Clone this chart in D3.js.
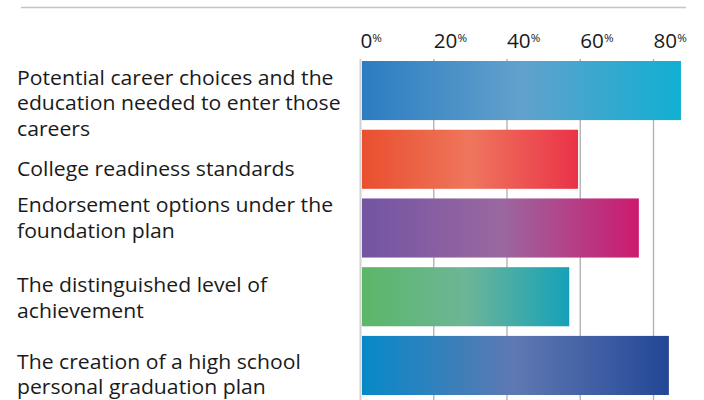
<!DOCTYPE html>
<html>
<head>
<meta charset="utf-8">
<script src="https://cdn.jsdelivr.net/npm/d3@7"></script>
<style>
  html, body { margin: 0; padding: 0; background: #fff; }
  svg { display: block; font-family: "Open Sans", sans-serif; }
</style>
</head>
<body>
<svg id="chart" width="704" height="400"></svg>
<script>
// Share of respondents who reported receiving information on each topic
const categories = [
  "Potential career choices and the education needed to enter those careers",
  "College readiness standards",
  "Endorsement options under the foundation plan",
  "The distinguished level of achievement",
  "The creation of a high school personal graduation plan"
];
const labelLines = [
  ["Potential career choices and the", "education needed to enter those", "careers"],
  ["College readiness standards"],
  ["Endorsement options under the", "foundation plan"],
  ["The distinguished level of", "achievement"],
  ["The creation of a high school", "personal graduation plan"]
];
const values = [87.5, 59.4, 76.0, 57.0, 84.2];
const tickValues = [0, 20, 40, 60, 80];

// Gradient stops (left, middle, right) for each bar
const gradients = [
  ["#2c7cc1", "#62a1cc", "#10afd2"],
  ["#e94f2e", "#ef765d", "#ea3248"],
  ["#7254a3", "#9a68a0", "#cc1a6e"],
  ["#5bb767", "#6db597", "#16a1b9"],
  ["#0689c7", "#5f78b2", "#234796"]
];

// Layout
const labelX = 17;
const lineHeight = 25.5;
const labelDy = [24, 46, 14, 25, 33];   // first baseline below each band's top
const textStretch = 1.06;                // slightly wide lettering

const svg = d3.select("#chart");

const x = d3.scaleLinear().domain([0, 80]).range([360.5, 653.5]);
const y = d3.scaleBand()
  .domain(categories)
  .range([61, 395])
  .paddingInner(0.14)
  .paddingOuter(0);

const defs = svg.append("defs");
gradients.forEach((stops, i) => {
  const g = defs.append("linearGradient")
    .attr("id", "grad" + i)
    .attr("x1", "0%").attr("x2", "100%")
    .attr("y1", "0%").attr("y2", "0%");
  stops.forEach((c, j) => {
    g.append("stop").attr("offset", (j / (stops.length - 1) * 100) + "%").attr("stop-color", c);
  });
});

// Top rule
svg.append("line")
  .attr("x1", 21).attr("x2", 686)
  .attr("y1", 7.5).attr("y2", 7.5)
  .attr("stroke", "#c4c4c4").attr("stroke-width", 1.5);

// Vertical gridlines
svg.append("g")
  .selectAll("line")
  .data(tickValues)
  .join("line")
  .attr("x1", d => x(d)).attr("x2", d => x(d))
  .attr("y1", 59).attr("y2", 400)
  .attr("stroke", d => d === 0 ? "#d2d2d2" : "#b3b3b3")
  .attr("stroke-width", d => d === 0 ? 2 : 1.4);

// Tick labels with superscript percent sign
const tl = svg.append("g")
  .selectAll("text")
  .data(tickValues)
  .join("text")
  .attr("transform", d => `translate(${x(d)},48) scale(${textStretch},1)`)
  .attr("fill", "#1a1a1a")
  .attr("font-size", 19.5);
tl.append("tspan").text(d => d);
tl.append("tspan")
  .attr("font-size", 11)
  .attr("dy", -6.5)
  .text("%");

// Bars
svg.append("g")
  .selectAll("rect")
  .data(values)
  .join("rect")
  .attr("x", x(0) + 1.5)
  .attr("y", (d, i) => y(categories[i]))
  .attr("width", d => x(d) - x(0) - 1.5)
  .attr("height", y.bandwidth())
  .attr("fill", (d, i) => `url(#grad${i})`);

// Category labels
const lab = svg.append("g")
  .selectAll("text")
  .data(labelLines)
  .join("text")
  .attr("transform", (d, i) => `translate(${labelX},${y(categories[i]) + labelDy[i]}) scale(${textStretch},1)`)
  .attr("fill", "#1a1a1a")
  .attr("font-size", 20);
lab.selectAll("tspan")
  .data(d => d)
  .join("tspan")
  .attr("x", 0)
  .attr("dy", (d, j) => j === 0 ? 0 : lineHeight)
  .text(d => d);
</script>
</body>
</html>
